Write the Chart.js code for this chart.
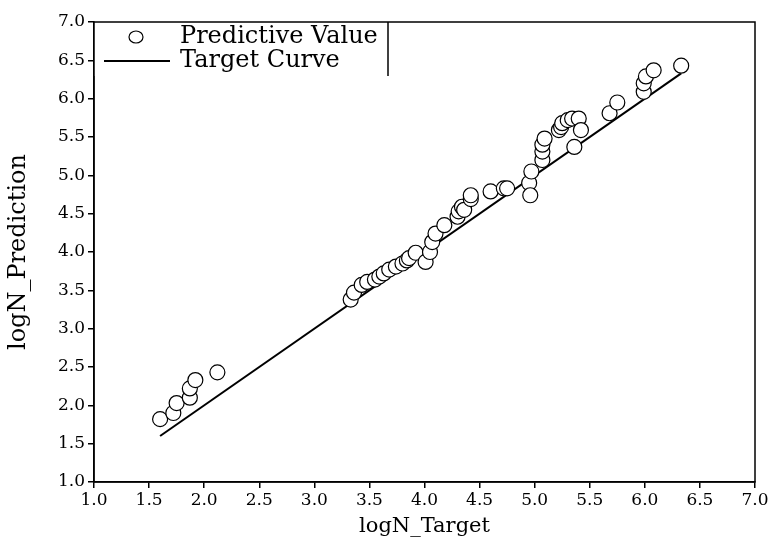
<!DOCTYPE html>
<html>
<head>
<meta charset="utf-8">
<script src="https://cdn.jsdelivr.net/npm/chart.js@4.4.1/dist/chart.umd.min.js"></script>
<style>
  html, body { margin: 0; padding: 0; background: #fff; }
  #wrap { width: 771px; height: 539px; }
</style>
</head>
<body>
<div id="wrap"><canvas id="fit"></canvas></div>
<script>
// ---- data ----
const targetX = [
  1.60, 1.72, 1.75, 1.87, 1.87, 1.92, 2.12,
  3.33, 3.36, 3.43, 3.48, 3.55, 3.59, 3.63, 3.68, 3.74, 3.80, 3.84, 3.86, 3.92,
  4.01, 4.05, 4.07, 4.10, 4.18, 4.30, 4.31, 4.34, 4.36, 4.42, 4.42, 4.60, 4.72, 4.75,
  4.95, 4.96, 4.97, 5.07, 5.07, 5.07, 5.09, 5.22, 5.24, 5.25, 5.30, 5.34, 5.40, 5.42, 5.36,
  5.68, 5.75, 5.99, 5.99, 6.01, 6.08, 6.33
];
const predictedY = [
  1.82, 1.90, 2.03, 2.10, 2.22, 2.33, 2.43,
  3.38, 3.47, 3.57, 3.61, 3.64, 3.68, 3.72, 3.77, 3.81, 3.85, 3.89, 3.92, 3.99,
  3.87, 4.00, 4.13, 4.24, 4.35, 4.46, 4.53, 4.59, 4.55, 4.69, 4.74, 4.79, 4.83, 4.83,
  4.90, 4.74, 5.05, 5.20, 5.31, 5.40, 5.48, 5.59, 5.63, 5.68, 5.72, 5.74, 5.74, 5.59, 5.37,
  5.81, 5.95, 6.09, 6.20, 6.29, 6.37, 6.43
];
const curveX = [1.6, 6.33];
const curveY = [1.6, 6.33];
const seriesNames = ['Predictive Value', 'Target Curve'];
const axisMin = 1.0, axisMax = 7.0, axisStep = 0.5;

const SERIF = '"DejaVu Serif", "Liberation Serif", serif';

// boxed legend in the top-left corner + frame round the plot
const framePlugin = {
  id: 'frame',
  afterDraw(chart) {
    const { ctx, chartArea: a } = chart;
    ctx.save();
    ctx.strokeStyle = '#000';

    // legend
    const boxR = 388, boxB = a.top + 54;
    ctx.fillStyle = '#fff';
    ctx.fillRect(a.left, a.top, boxR - a.left, boxB - a.top);
    ctx.lineWidth = 1.5;
    ctx.beginPath();
    ctx.moveTo(boxR, a.top);
    ctx.lineTo(boxR, boxB);
    ctx.stroke();

    const row1 = a.top + 15, row2 = a.top + 39;
    ctx.lineWidth = 1.2;
    ctx.beginPath();
    ctx.ellipse(136, row1, 7, 6, 0, 0, Math.PI * 2);
    ctx.stroke();
    ctx.lineWidth = 2;
    ctx.beginPath();
    ctx.moveTo(104, row2);
    ctx.lineTo(170, row2);
    ctx.stroke();

    ctx.fillStyle = '#000';
    ctx.font = '24px ' + SERIF;
    ctx.textBaseline = 'middle';
    ctx.fillText(seriesNames[0], 180, row1);
    ctx.fillText(seriesNames[1], 180, row2);

    // frame last so the legend fill does not eat the axis lines
    ctx.lineWidth = 1.5;
    ctx.strokeRect(a.left, a.top, a.right - a.left, a.bottom - a.top);
    ctx.restore();
  }
};

new Chart(document.getElementById('fit'), {
  type: 'scatter',
  data: {
    datasets: [
      {
        label: seriesNames[1],
        data: curveX.map((x, i) => ({ x, y: curveY[i] })),
        showLine: true,
        borderColor: '#000',
        borderWidth: 2,
        pointRadius: 0,
        order: 2,
      },
      {
        label: seriesNames[0],
        data: targetX.map((x, i) => ({ x, y: predictedY[i] })),
        pointStyle: 'circle',
        pointRadius: 7.5,
        pointBorderWidth: 1.2,
        pointBorderColor: '#000',
        pointBackgroundColor: '#fff',
        order: 1,
      },
    ],
  },
  options: {
    responsive: true,
    maintainAspectRatio: false,
    animation: false,
    layout: { padding: { top: 22, right: 16, left: 0, bottom: 0 } },
    plugins: { legend: { display: false }, tooltip: { enabled: false } },
    scales: {
      x: {
        type: 'linear',
        min: axisMin, max: axisMax,
        afterFit(s) { s.height = 57; },
        grid: { drawOnChartArea: false, color: '#000', tickLength: 6, lineWidth: 1.5 },
        border: { color: '#000', width: 1.5 },
        ticks: {
          stepSize: axisStep, color: '#000', padding: 2, maxRotation: 0,
          font: { family: SERIF, size: 17 },
          callback: v => v.toFixed(1),
        },
        title: {
          display: true, text: 'logN_Target', color: '#000',
          font: { family: SERIF, size: 21 }, padding: { top: 3, bottom: 0 },
        },
      },
      y: {
        type: 'linear',
        min: axisMin, max: axisMax,
        afterFit(s) { s.width = 94; },
        grid: { drawOnChartArea: false, color: '#000', tickLength: 6, lineWidth: 1.5 },
        border: { color: '#000', width: 1.5 },
        ticks: {
          stepSize: axisStep, color: '#000', padding: 3,
          font: { family: SERIF, size: 17 },
          callback: v => v.toFixed(1),
        },
        title: {
          display: true, text: 'logN_Prediction', color: '#000',
          font: { family: SERIF, size: 24 }, padding: { top: 4, bottom: 0 },
        },
      },
    },
  },
  plugins: [framePlugin],
});
</script>
</body>
</html>
